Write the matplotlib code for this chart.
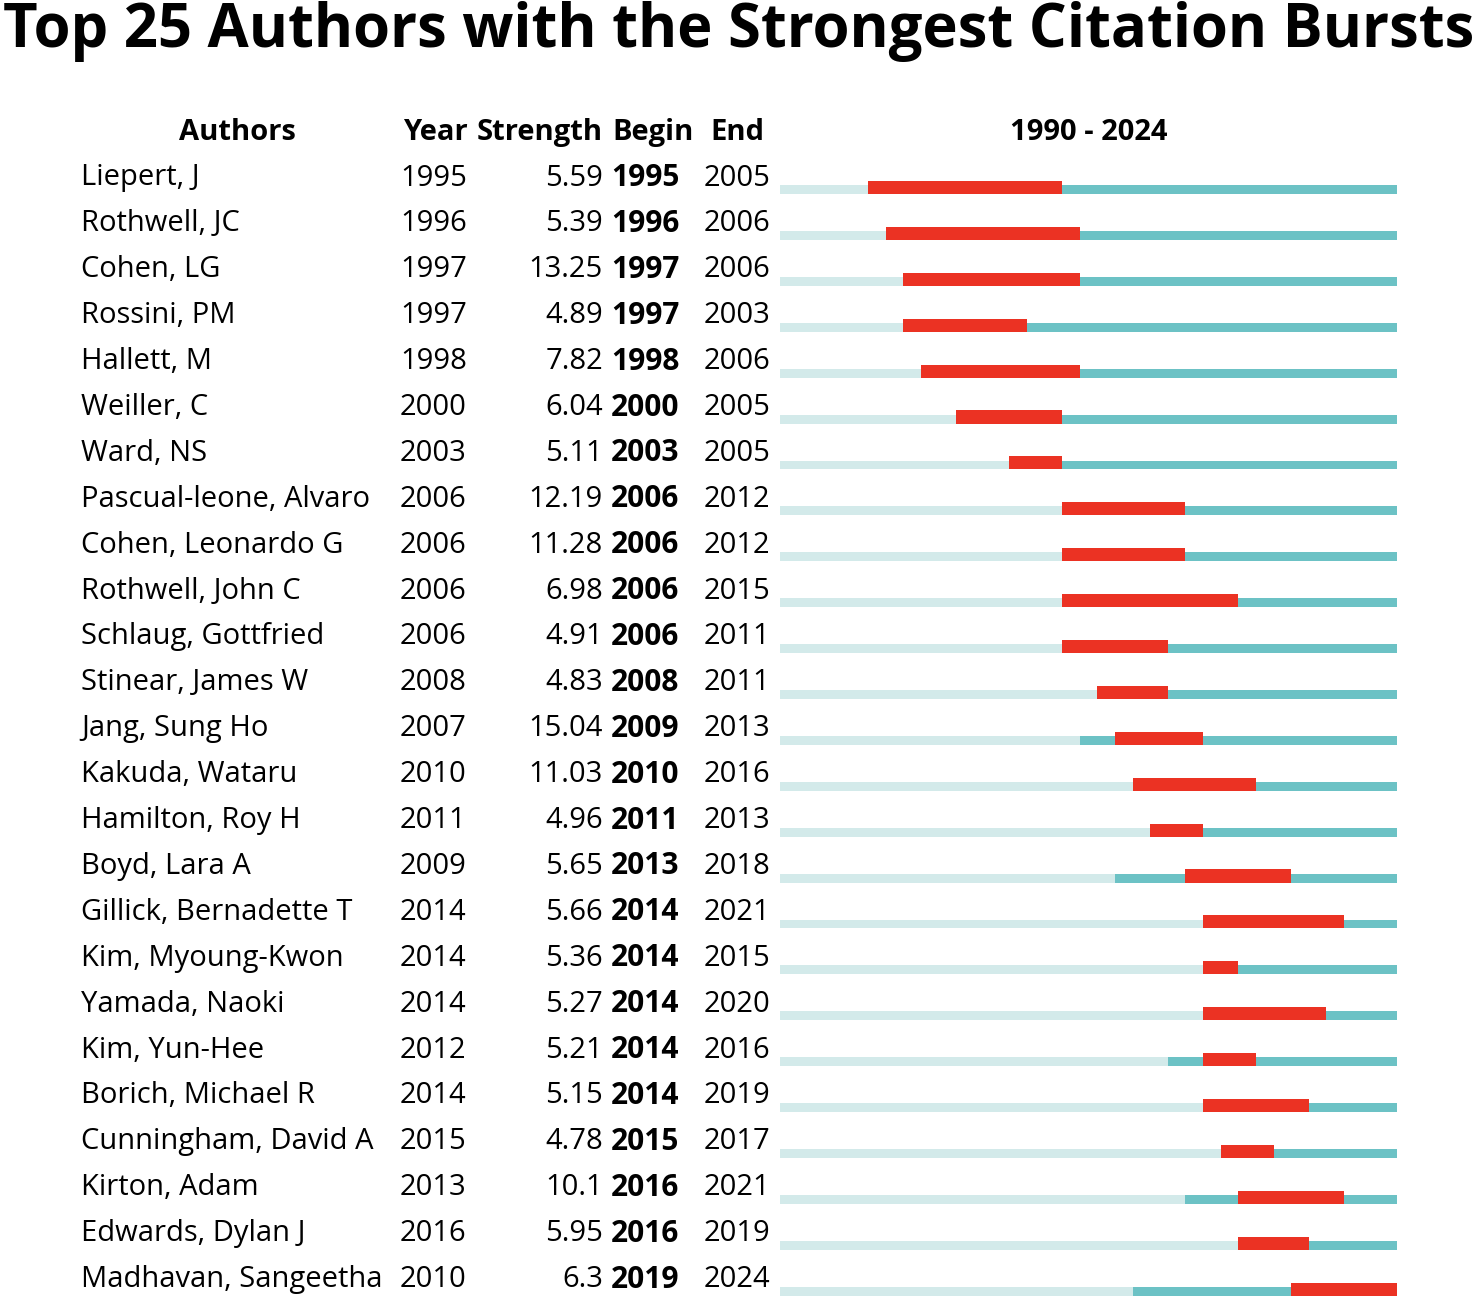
import matplotlib
matplotlib.use("Agg")
import matplotlib.pyplot as plt
from matplotlib.patches import Rectangle

plt.rcParams['font.family'] = ['Open Sans', 'DejaVu Sans']

# burst data
authors = ['Liepert, J', 'Rothwell, JC', 'Cohen, LG', 'Rossini, PM', 'Hallett, M',
           'Weiller, C', 'Ward, NS', 'Pascual-leone, Alvaro', 'Cohen, Leonardo G',
           'Rothwell, John C', 'Schlaug, Gottfried', 'Stinear, James W',
           'Jang, Sung Ho', 'Kakuda, Wataru', 'Hamilton, Roy H', 'Boyd, Lara A',
           'Gillick, Bernadette T', 'Kim, Myoung-Kwon', 'Yamada, Naoki',
           'Kim, Yun-Hee', 'Borich, Michael R', 'Cunningham, David A',
           'Kirton, Adam', 'Edwards, Dylan J', 'Madhavan, Sangeetha']
year = [1995, 1996, 1997, 1997, 1998, 2000, 2003, 2006, 2006, 2006, 2006, 2008,
        2007, 2010, 2011, 2009, 2014, 2014, 2014, 2012, 2014, 2015, 2013, 2016, 2010]
strength = [5.59, 5.39, 13.25, 4.89, 7.82, 6.04, 5.11, 12.19, 11.28, 6.98, 4.91,
            4.83, 15.04, 11.03, 4.96, 5.65, 5.66, 5.36, 5.27, 5.21, 5.15, 4.78,
            10.1, 5.95, 6.3]
begin = [1995, 1996, 1997, 1997, 1998, 2000, 2003, 2006, 2006, 2006, 2006, 2008,
         2009, 2010, 2011, 2013, 2014, 2014, 2014, 2014, 2014, 2015, 2016, 2016, 2019]
end = [2005, 2006, 2006, 2003, 2006, 2005, 2005, 2012, 2012, 2015, 2011, 2011,
       2013, 2016, 2013, 2018, 2021, 2015, 2020, 2016, 2019, 2017, 2021, 2019, 2024]
start_year, end_year = 1990, 2024

W, H = 1477, 1300
fig = plt.figure(figsize=(W / 100, H / 100), dpi=100)
fig.patch.set_facecolor('white')

# rows: row i centred at pixel 178 + 45.9*i
row_h = 45.9
y_top = -178 / row_h
y_bot = (H - 178) / row_h

# text layer, x in pixels
tx = fig.add_axes([0, 0, 1, 1])
tx.set_xlim(0, W)
tx.set_ylim(y_bot, y_top)
tx.axis('off')

# timeline layer, x in years
ax = fig.add_axes([780 / W, 0, (1397 - 780) / W, 1])
ax.set_xlim(start_year, end_year + 1)
ax.set_ylim(y_bot, y_top)
ax.axis('off')

light = '#d3eaea'
teal = '#6cc2c5'
red = '#eb3223'

fs = 21
title = tx.text(W / 2, -3.2, 'Top 25 Authors with the Strongest Citation Bursts',
                ha='center', va='center', fontsize=34, fontweight='bold')
# stretch the title to the full width
fig.canvas.draw()
bb = title.get_window_extent()
title.set_fontsize(34 * 1472 / bb.width)

hdr = dict(va='center', fontsize=fs, fontweight='bold')
tx.text(237, -1, 'Authors', ha='center', **hdr)
tx.text(403, -1, 'Year', ha='left', **hdr)
tx.text(477, -1, 'Strength', ha='left', **hdr)
tx.text(612, -1, 'Begin', ha='left', **hdr)
tx.text(710, -1, 'End', ha='left', **hdr)
tx.text(1089, -1, f'{start_year} - {end_year}', ha='center', **hdr)

for i, name in enumerate(authors):
    tx.text(81, i, name, ha='left', va='center', fontsize=fs)
    tx.text(400, i, str(year[i]), ha='left', va='center', fontsize=fs)
    tx.text(603, i, str(strength[i]), ha='right', va='center', fontsize=fs)
    tx.text(611, i, str(begin[i]), ha='left', va='center', fontsize=21.5, fontweight='bold')
    tx.text(704, i, str(end[i]), ha='left', va='center', fontsize=fs)

    for yr in range(start_year, end_year + 1):
        if begin[i] <= yr <= end[i]:
            ax.add_patch(Rectangle((yr, i + 0.065), 1, 0.285, facecolor=red,
                                   linewidth=0))
        elif yr >= year[i]:
            ax.add_patch(Rectangle((yr, i + 0.155), 1, 0.195, facecolor=teal,
                                   linewidth=0))
        else:
            ax.add_patch(Rectangle((yr, i + 0.155), 1, 0.195, facecolor=light,
                                   linewidth=0))

fig.savefig('out.png', dpi=100)
